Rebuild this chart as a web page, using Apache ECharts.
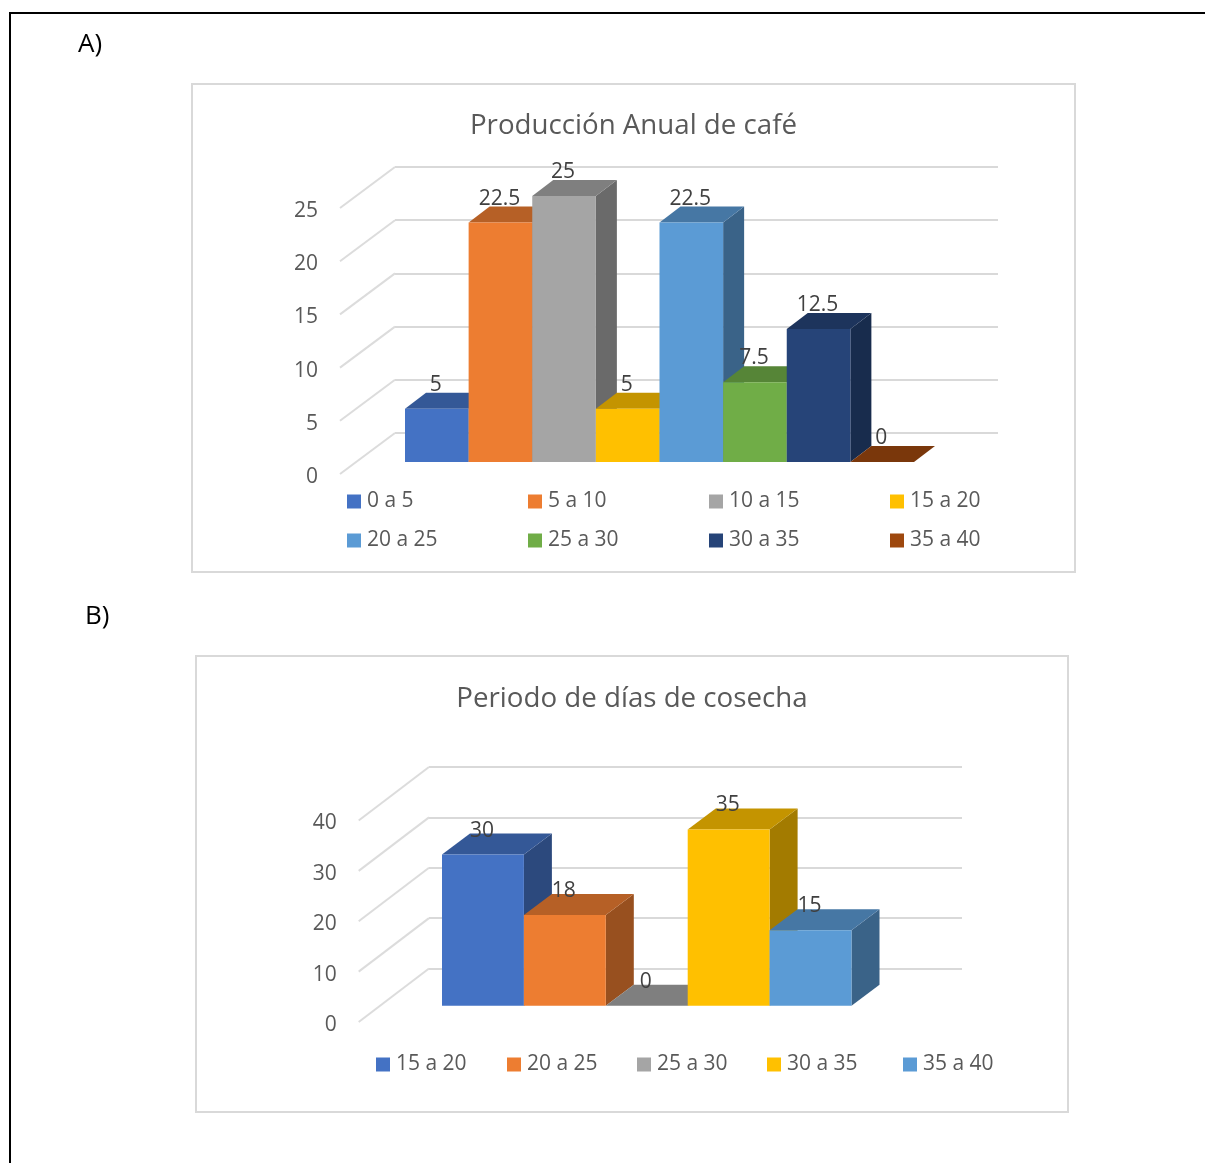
<!DOCTYPE html>
<html lang="es">
<head>
<meta charset="utf-8">
<title>Producción de café</title>
<script src="https://cdn.jsdelivr.net/npm/echarts@6/dist/echarts.min.js"></script>
<style>
  html, body { margin: 0; padding: 0; background: #fff; }
  #page { position: relative; width: 1205px; height: 1163px; overflow: hidden; }
  .layer { position: absolute; left: 0; top: 0; width: 1205px; height: 1163px; }
</style>
</head>
<body>
<div id="page">
  <div id="chartA" class="layer"></div>
  <div id="chartB" class="layer"></div>
</div>
<script>
// Chart A: annual coffee production by range
const titleA = 'Producción Anual de café';
const namesA = ['0 a 5', '5 a 10', '10 a 15', '15 a 20', '20 a 25', '25 a 30', '30 a 35', '35 a 40'];
const valuesA = [5, 22.5, 25, 5, 22.5, 7.5, 12.5, 0];
const ticksA = [0, 5, 10, 15, 20, 25];
const coloursA = ['#4472C4', '#ED7D31', '#A5A5A5', '#FFC000', '#5B9BD5', '#70AD47', '#264478', '#9E480E'];

// Chart B: length of the harvest period in days
const titleB = 'Periodo de días de cosecha';
const namesB = ['15 a 20', '20 a 25', '25 a 30', '30 a 35', '35 a 40'];
const valuesB = [30, 18, 0, 35, 15];
const ticksB = [0, 10, 20, 30, 40];
const coloursB = ['#4472C4', '#ED7D31', '#A5A5A5', '#FFC000', '#5B9BD5'];

const FONT = '"Open Sans", "Noto Sans", sans-serif';
const GRID_COLOUR = '#d9d9d9';

// Multiplies an RGB hex colour to get the shaded faces of a box
function shade(hex, k) {
  const n = parseInt(hex.slice(1), 16);
  const ch = s => Math.round(((n >> s) & 255) * k);
  return 'rgb(' + ch(16) + ',' + ch(8) + ',' + ch(0) + ')';
}

// One pseudo-3D box: front face, top face, right face and value label
function boxRenderer(colour, depth, value) {
  return function (params, api) {
    const base = api.coord([api.value(0), 0]);
    const top = api.coord([api.value(0), api.value(1)]);
    const w = api.size([1, 0])[0];
    const l = base[0] - w / 2;
    const r = base[0] + w / 2;
    const dx = depth.dx, dy = depth.dy;
    return {
      type: 'group',
      children: [
        { type: 'polygon', shape: { points: [[r, top[1]], [r + dx, top[1] - dy], [r + dx, base[1] - dy], [r, base[1]]] },
          style: { fill: shade(colour, 0.64) } },
        { type: 'polygon', shape: { points: [[l, top[1]], [l + dx, top[1] - dy], [r + dx, top[1] - dy], [r, top[1]]] },
          style: { fill: shade(colour, 0.77) } },
        { type: 'rect', shape: { x: l, y: top[1], width: w, height: base[1] - top[1] },
          style: { fill: colour } },
        { type: 'text', z2: 10,
          style: { text: String(value), x: base[0] - 1, y: top[1] - 24, align: 'center', verticalAlign: 'middle',
                   font: '21px ' + FONT, fill: '#404040' } }
      ]
    };
  };
}

function buildOption(cfg) {
  const g = cfg.layout;
  const maxTick = cfg.ticks[cfg.ticks.length - 1];
  const wallDx = g.back.left - g.axis.left;
  const wallDy = g.axis.top - g.back.top;

  const boxes = cfg.names.map((name, i) => ({
    type: 'custom',
    name: name,
    coordinateSystem: 'cartesian2d',
    xAxisIndex: 0,
    yAxisIndex: 0,
    itemStyle: { color: cfg.colours[i] },
    data: [[i, cfg.values[i]]],
    encode: { x: 0, y: 1 },
    renderItem: boxRenderer(cfg.colours[i], g.depth, cfg.values[i]),
    silent: true
  }));

  // Receding lines that join the back wall to the tick labels
  const sideLines = {
    type: 'custom',
    name: 'pared lateral',
    coordinateSystem: 'cartesian2d',
    xAxisIndex: 1,
    yAxisIndex: 1,
    z: 1,
    silent: true,
    data: cfg.ticks.map(t => [0, t]),
    encode: { x: 0, y: 1 },
    renderItem: function (params, api) {
      const p = api.coord([0, api.value(1)]);
      return { type: 'line', shape: { x1: p[0], y1: p[1], x2: p[0] - wallDx, y2: p[1] + wallDy },
               style: { stroke: '#dcdcdc', lineWidth: 2 } };
    }
  };

  return {
    animation: false,
    backgroundColor: 'transparent',
    textStyle: { fontFamily: FONT },
    title: {
      text: cfg.title, left: g.titleX, top: g.titleY, textAlign: 'center',
      textStyle: { fontFamily: FONT, fontSize: 27.7, fontWeight: 'normal', color: '#595959' }
    },
    grid: [
      { left: g.front.left, width: g.front.width, top: g.front.top, height: g.front.height },
      { left: g.back.left, width: g.back.width, top: g.back.top, height: g.front.height },
      // Tick labels sit a little under the ends of the receding lines
      { left: g.axis.left, width: 1, top: g.axis.top + 3, height: g.front.height }
    ],
    xAxis: [
      { gridIndex: 0, type: 'category', data: cfg.names, show: false },
      { gridIndex: 1, type: 'value', min: 0, max: 1, show: false },
      { gridIndex: 2, type: 'value', min: 0, max: 1, show: false }
    ],
    yAxis: [
      { gridIndex: 0, type: 'value', min: 0, max: maxTick, show: false },
      { gridIndex: 1, type: 'value', min: 0, max: maxTick, interval: cfg.ticks[1],
        axisLine: { show: false }, axisTick: { show: false }, axisLabel: { show: false },
        splitLine: { show: true, lineStyle: { color: GRID_COLOUR, width: 2 } } },
      { gridIndex: 2, type: 'value', min: 0, max: maxTick, interval: cfg.ticks[1],
        axisLine: { show: false }, axisTick: { show: false }, splitLine: { show: false },
        axisLabel: { margin: 22, fontFamily: FONT, fontSize: 21, color: '#595959' } }
    ],
    legend: cfg.names.map((name, i) => ({
      data: [name],
      left: g.legend[i][0],
      top: g.legend[i][1],
      padding: 0,
      icon: 'rect',
      itemWidth: 14,
      itemHeight: 14,
      itemGap: 0,
      selectedMode: false,
      textStyle: { fontFamily: FONT, fontSize: 21, color: '#595959', padding: [0, 0, 0, 1] }
    })),
    graphic: cfg.graphic,
    series: [sideLines].concat(boxes)
  };
}

function panelGraphic(rect, label, lx, ly) {
  return [
    { type: 'rect', shape: rect, style: { fill: '#fff', stroke: '#d9d9d9', lineWidth: 2 }, silent: true, z: 0 },
    { type: 'text', style: { text: label, x: lx, y: ly, font: '26px ' + FONT, fill: '#000' }, silent: true, z: 1 }
  ];
}

const optionA = buildOption({
  title: titleA, names: namesA, values: valuesA, ticks: ticksA, colours: coloursA,
  layout: {
    titleX: 628.5, titleY: 107,
    front: { left: 405, width: 509, top: 196, height: 266 },
    back: { left: 395, width: 603, top: 167 },
    axis: { left: 340, top: 208 },
    depth: { dx: 21, dy: 16 },
    legend: [[347, 491], [528, 491], [709, 491], [890, 491], [347, 530], [528, 530], [709, 530], [890, 530]]
  },
  graphic: panelGraphic({ x: 192, y: 84, width: 883, height: 488 }, 'A)', 78, 32).concat([
    { type: 'polyline', shape: { points: [[10, 1163], [10, 13], [1205, 13]] },
      style: { stroke: '#000', lineWidth: 2, fill: null }, silent: true, z: 0 }
  ])
});

const optionB = buildOption({
  title: titleB, names: namesB, values: valuesB, ticks: ticksB, colours: coloursB,
  layout: {
    titleX: 627, titleY: 680,
    front: { left: 442, width: 409.5, top: 804.2, height: 201.5 },
    back: { left: 429, width: 533, top: 767 },
    axis: { left: 358.7, top: 820.5 },
    depth: { dx: 28, dy: 21 },
    legend: [[376, 1054], [507, 1054], [637, 1054], [767, 1054], [903, 1054]]
  },
  graphic: panelGraphic({ x: 196, y: 656, width: 872, height: 456 }, 'B)', 85, 604)
});

echarts.init(document.getElementById('chartA')).setOption(optionA);
echarts.init(document.getElementById('chartB')).setOption(optionB);
</script>
</body>
</html>
